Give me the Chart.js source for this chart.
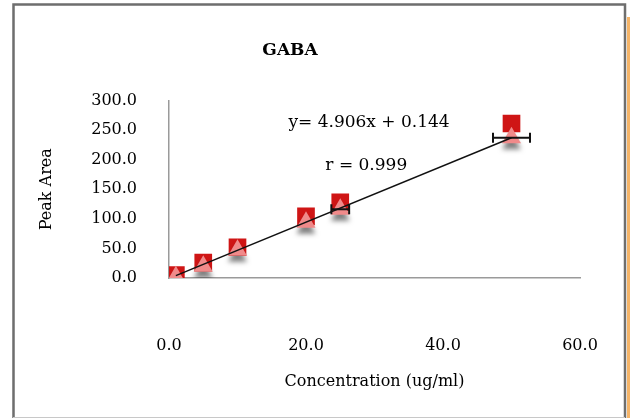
<!DOCTYPE html>
<html>
<head>
<meta charset="utf-8">
<script src="https://cdn.jsdelivr.net/npm/chart.js@4/dist/chart.umd.min.js"></script>
<style>
  html, body { margin: 0; padding: 0; background: #fff; }
  #wrap { width: 630px; height: 418px; }
</style>
</head>
<body>
<div id="wrap"><canvas id="gabaChart" width="630" height="418"></canvas></div>
<script>
// GABA calibration
var conc = [1, 5, 10, 20, 25, 50];
var peakSquares = [5, 26, 52, 104, 128, 261];
var peakTriangles = [2, 20, 47, 94, 116, 237];
var concErr = [0, 0, 0, 0, 1.3, 2.7];
var trendX = [1, 50];
var trendY = [4, 237];
var yTicks = [0, 50, 100, 150, 200, 250, 300];
var xTicks = [0, 20, 40, 60];

var fontName = "'DejaVu Serif', 'Liberation Serif', serif";

function toPoints(xs, ys) {
    var pts = [];
    xs.forEach((x, i) => {
        pts.push({x: x, y: ys[i]});
    });
    return pts;
}

// frame + orange strip on the right edge
var framePlugin = {
    id: 'frame',
    beforeDraw: function(chart) {
        var ctx = chart.ctx;
        ctx.save();
        ctx.fillStyle = '#fff';
        ctx.fillRect(0, 0, chart.width, chart.height);
        ctx.fillStyle = '#f5b468';
        ctx.fillRect(627, 17, 3, chart.height - 17);
        ctx.strokeStyle = '#6e6e6e';
        ctx.lineWidth = 2.5;
        ctx.beginPath();
        ctx.moveTo(13.5, chart.height);
        ctx.lineTo(13.5, 4.5);
        ctx.lineTo(625, 4.5);
        ctx.lineTo(625, chart.height);
        ctx.stroke();
        ctx.strokeStyle = '#c8c8c8';
        ctx.lineWidth = 1;
        ctx.beginPath();
        ctx.moveTo(13, 417.5);
        ctx.lineTo(625, 417.5);
        ctx.stroke();
        ctx.restore();
    }
};

// soft shadow under the triangle markers
var shadowPlugin = {
    id: 'markerShadow',
    beforeDatasetDraw: function(chart, args) {
        if (args.index === 1) {
            var ctx = chart.ctx;
            ctx.save();
            ctx.shadowColor = 'rgba(0,0,0,0.5)';
            ctx.shadowBlur = 5;
            ctx.shadowOffsetY = 6;
        }
    },
    afterDatasetDraw: function(chart, args) {
        if (args.index === 1) {
            chart.ctx.restore();
        }
    }
};

// horizontal error bars + equation text
var extrasPlugin = {
    id: 'extras',
    afterDatasetsDraw: function(chart) {
        var ctx = chart.ctx;
        var xs = chart.scales.x, ys = chart.scales.y;
        ctx.save();
        ctx.strokeStyle = '#111';
        ctx.lineWidth = 2;
        conc.forEach((c, i) => {
            if (concErr[i] > 0) {
                var y = ys.getPixelForValue(peakTriangles[i]);
                var x1 = xs.getPixelForValue(c - concErr[i]);
                var x2 = xs.getPixelForValue(c + concErr[i]);
                ctx.beginPath();
                ctx.moveTo(x1, y); ctx.lineTo(x2, y);
                ctx.moveTo(x1, y - 5); ctx.lineTo(x1, y + 5);
                ctx.moveTo(x2, y - 5); ctx.lineTo(x2, y + 5);
                ctx.stroke();
            }
        });
        ctx.fillStyle = '#000';
        ctx.font = '17px ' + fontName;
        ctx.textAlign = 'center';
        ctx.textBaseline = 'middle';
        ctx.fillText('y= 4.906x + 0.144', xs.getPixelForValue(29.2), ys.getPixelForValue(263));
        ctx.fillText('r = 0.999', xs.getPixelForValue(28.8), ys.getPixelForValue(190));
        ctx.restore();
    }
};

var config = {
    type: 'scatter',
    data: {
        datasets: [{
            label: 'squares',
            data: toPoints(conc, peakSquares),
            pointStyle: 'rect',
            pointRadius: 12.5,
            backgroundColor: '#cf1515',
            borderColor: '#cf1515',
            borderWidth: 0,
            order: 3
        }, {
            label: 'triangles',
            data: toPoints(conc, peakTriangles),
            pointStyle: 'triangle',
            pointRadius: 11,
            backgroundColor: '#f08a8a',
            borderColor: '#f08a8a',
            borderWidth: 0,
            order: 2
        }, {
            label: 'trend',
            type: 'line',
            data: toPoints(trendX, trendY),
            borderColor: '#111',
            borderWidth: 1.5,
            pointRadius: 0,
            fill: false,
            order: 1
        }]
    },
    options: {
        responsive: false,
        animation: false,
        layout: { padding: { left: 0, right: 50, top: 0, bottom: 23 } },
        plugins: {
            legend: { display: false },
            tooltip: { enabled: false },
            title: {
                display: true,
                text: 'GABA',
                color: '#000',
                font: { family: fontName, size: 17, weight: 'bold' },
                padding: { top: 40, bottom: 40 }
            }
        },
        scales: {
            x: {
                type: 'linear',
                min: 0,
                max: 60,
                afterBuildTicks: function(scale) {
                    scale.ticks = xTicks.map(v => ({value: v}));
                },
                afterFit: function(scale) {
                    scale.height = 117;
                    scale.paddingLeft = 0;
                    scale.paddingRight = 0;
                },
                grid: { display: false, drawTicks: false },
                border: { display: true, color: '#9a9a9a', width: 1.5 },
                ticks: {
                    color: '#000',
                    padding: 58,
                    autoSkip: false,
                    font: { family: fontName, size: 16 },
                    callback: v => Number(v).toFixed(1)
                },
                title: {
                    display: true,
                    text: 'Concentration (ug/ml)',
                    color: '#000',
                    font: { family: fontName, size: 16 },
                    padding: { top: 19, bottom: 4 }
                }
            },
            y: {
                min: 0,
                max: 300,
                afterBuildTicks: function(scale) {
                    scale.ticks = yTicks.map(v => ({value: v}));
                },
                afterFit: function(scale) {
                    scale.width = 169;
                    scale.paddingTop = 0;
                    scale.paddingBottom = 0;
                },
                grid: { display: false, drawTicks: false },
                border: { display: true, color: '#9a9a9a', width: 1.5 },
                ticks: {
                    color: '#000',
                    padding: 32,
                    autoSkip: false,
                    font: { family: fontName, size: 16 },
                    callback: v => Number(v).toFixed(1)
                },
                title: {
                    display: true,
                    text: 'Peak Area',
                    color: '#000',
                    font: { family: fontName, size: 16 },
                    padding: { top: 37, bottom: 4 }
                }
            }
        }
    },
    plugins: [framePlugin, shadowPlugin, extrasPlugin]
};

var ctx = document.getElementById('gabaChart');
window.myChart = new Chart(ctx, config);
</script>
</body>
</html>
